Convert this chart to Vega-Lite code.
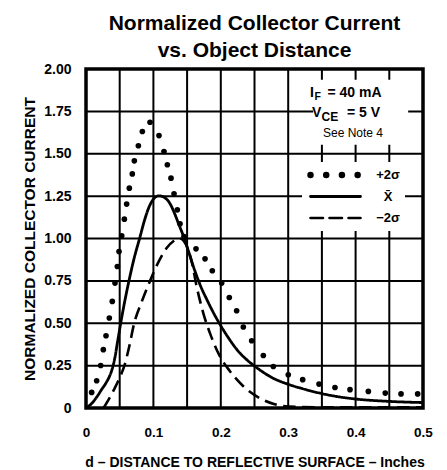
{
  "$schema": "https://vega.github.io/schema/vega-lite/v6.json",
  "width": 337,
  "height": 339,
  "autosize": {"type": "none"},
  "padding": {"left": 86, "top": 69, "right": 24, "bottom": 62},
  "background": "white",
  "config": {
    "view": {"stroke": "black", "strokeWidth": 3.5},
    "font": "Liberation Sans",
    "axis": {"grid": false}
  },
  "title": {
    "text": ["Normalized Collector Current", "vs. Object Distance"],
    "font": "Liberation Sans",
    "fontSize": 21,
    "fontWeight": "bold",
    "lineHeight": 27,
    "offset": 1,
    "color": "black",
    "anchor": "middle",
    "frame": "group"
  },
  "datasets": {
    "gridx": [
      {"gx": 0.05}, {"gx": 0.1}, {"gx": 0.15}, {"gx": 0.2}, {"gx": 0.25},
      {"gx": 0.3}, {"gx": 0.35}, {"gx": 0.4}, {"gx": 0.45}
    ],
    "gridy": [
      {"gy": 0.25}, {"gy": 0.5}, {"gy": 0.75}, {"gy": 1.0},
      {"gy": 1.25}, {"gy": 1.5}, {"gy": 1.75}
    ],
    "curves": [
      {"s": "X̄", "d": 0, "v": 0},
      {"s": "X̄", "d": 0.008, "v": 0.025},
      {"s": "X̄", "d": 0.016, "v": 0.065},
      {"s": "X̄", "d": 0.0225, "v": 0.105},
      {"s": "X̄", "d": 0.03, "v": 0.15},
      {"s": "X̄", "d": 0.035, "v": 0.188},
      {"s": "X̄", "d": 0.039, "v": 0.232},
      {"s": "X̄", "d": 0.043, "v": 0.3},
      {"s": "X̄", "d": 0.047, "v": 0.395},
      {"s": "X̄", "d": 0.0515, "v": 0.5},
      {"s": "X̄", "d": 0.0575, "v": 0.63},
      {"s": "X̄", "d": 0.064, "v": 0.755},
      {"s": "X̄", "d": 0.0715, "v": 0.885},
      {"s": "X̄", "d": 0.0795, "v": 1.0},
      {"s": "X̄", "d": 0.087, "v": 1.11},
      {"s": "X̄", "d": 0.094, "v": 1.19},
      {"s": "X̄", "d": 0.1, "v": 1.232},
      {"s": "X̄", "d": 0.108, "v": 1.252},
      {"s": "X̄", "d": 0.116, "v": 1.243},
      {"s": "X̄", "d": 0.124, "v": 1.21},
      {"s": "X̄", "d": 0.131, "v": 1.152},
      {"s": "X̄", "d": 0.138, "v": 1.08},
      {"s": "X̄", "d": 0.144, "v": 1.02},
      {"s": "X̄", "d": 0.15, "v": 0.95},
      {"s": "X̄", "d": 0.1606, "v": 0.82},
      {"s": "X̄", "d": 0.17, "v": 0.72},
      {"s": "X̄", "d": 0.18, "v": 0.634},
      {"s": "X̄", "d": 0.19, "v": 0.555},
      {"s": "X̄", "d": 0.2, "v": 0.485},
      {"s": "X̄", "d": 0.212, "v": 0.41},
      {"s": "X̄", "d": 0.2234, "v": 0.347},
      {"s": "X̄", "d": 0.237, "v": 0.29},
      {"s": "X̄", "d": 0.25, "v": 0.248},
      {"s": "X̄", "d": 0.2766, "v": 0.178},
      {"s": "X̄", "d": 0.3, "v": 0.14},
      {"s": "X̄", "d": 0.325, "v": 0.11},
      {"s": "X̄", "d": 0.35, "v": 0.085},
      {"s": "X̄", "d": 0.375, "v": 0.066},
      {"s": "X̄", "d": 0.4, "v": 0.053},
      {"s": "X̄", "d": 0.45, "v": 0.039},
      {"s": "X̄", "d": 0.5, "v": 0.032},
      {"s": "−2σ", "d": 0.026, "v": 0},
      {"s": "−2σ", "d": 0.035, "v": 0.06},
      {"s": "−2σ", "d": 0.043, "v": 0.12},
      {"s": "−2σ", "d": 0.05, "v": 0.18},
      {"s": "−2σ", "d": 0.057, "v": 0.25},
      {"s": "−2σ", "d": 0.064, "v": 0.36},
      {"s": "−2σ", "d": 0.0715, "v": 0.5},
      {"s": "−2σ", "d": 0.0825, "v": 0.625},
      {"s": "−2σ", "d": 0.095, "v": 0.75},
      {"s": "−2σ", "d": 0.108, "v": 0.865},
      {"s": "−2σ", "d": 0.12, "v": 0.945},
      {"s": "−2σ", "d": 0.13, "v": 0.985},
      {"s": "−2σ", "d": 0.139, "v": 1.0},
      {"s": "−2σ", "d": 0.145, "v": 0.985},
      {"s": "−2σ", "d": 0.151, "v": 0.94},
      {"s": "−2σ", "d": 0.157, "v": 0.86},
      {"s": "−2σ", "d": 0.164, "v": 0.72},
      {"s": "−2σ", "d": 0.174, "v": 0.56},
      {"s": "−2σ", "d": 0.185, "v": 0.43},
      {"s": "−2σ", "d": 0.198, "v": 0.31},
      {"s": "−2σ", "d": 0.213, "v": 0.22},
      {"s": "−2σ", "d": 0.233, "v": 0.13},
      {"s": "−2σ", "d": 0.257, "v": 0.06},
      {"s": "−2σ", "d": 0.28, "v": 0.022},
      {"s": "−2σ", "d": 0.3, "v": 0.008},
      {"s": "−2σ", "d": 0.35, "v": 0.004},
      {"s": "−2σ", "d": 0.4, "v": 0.004},
      {"s": "−2σ", "d": 0.5, "v": 0.004}
    ],
    "dots": [
      {"s": "+2σ", "d": 0.0084, "v": 0.092},
      {"s": "+2σ", "d": 0.0158, "v": 0.161},
      {"s": "+2σ", "d": 0.0218, "v": 0.251},
      {"s": "+2σ", "d": 0.0257, "v": 0.344},
      {"s": "+2σ", "d": 0.0297, "v": 0.426},
      {"s": "+2σ", "d": 0.0346, "v": 0.531},
      {"s": "+2σ", "d": 0.039, "v": 0.629},
      {"s": "+2σ", "d": 0.043, "v": 0.737},
      {"s": "+2σ", "d": 0.0465, "v": 0.835},
      {"s": "+2σ", "d": 0.049, "v": 0.923},
      {"s": "+2σ", "d": 0.053, "v": 1.016},
      {"s": "+2σ", "d": 0.0569, "v": 1.114},
      {"s": "+2σ", "d": 0.0603, "v": 1.203},
      {"s": "+2σ", "d": 0.0643, "v": 1.297},
      {"s": "+2σ", "d": 0.0687, "v": 1.381},
      {"s": "+2σ", "d": 0.0717, "v": 1.458},
      {"s": "+2σ", "d": 0.0777, "v": 1.547},
      {"s": "+2σ", "d": 0.0836, "v": 1.631},
      {"s": "+2σ", "d": 0.095, "v": 1.686},
      {"s": "+2σ", "d": 0.1083, "v": 1.607},
      {"s": "+2σ", "d": 0.1157, "v": 1.513},
      {"s": "+2σ", "d": 0.1207, "v": 1.435},
      {"s": "+2σ", "d": 0.1261, "v": 1.356},
      {"s": "+2σ", "d": 0.1306, "v": 1.264},
      {"s": "+2σ", "d": 0.1355, "v": 1.169},
      {"s": "+2σ", "d": 0.1395, "v": 1.087},
      {"s": "+2σ", "d": 0.1454, "v": 1.012},
      {"s": "+2σ", "d": 0.1632, "v": 0.939},
      {"s": "+2σ", "d": 0.1766, "v": 0.88},
      {"s": "+2σ", "d": 0.1874, "v": 0.81},
      {"s": "+2σ", "d": 0.2013, "v": 0.737},
      {"s": "+2σ", "d": 0.2126, "v": 0.652},
      {"s": "+2σ", "d": 0.2235, "v": 0.574},
      {"s": "+2σ", "d": 0.2334, "v": 0.478},
      {"s": "+2σ", "d": 0.2458, "v": 0.397},
      {"s": "+2σ", "d": 0.2631, "v": 0.31},
      {"s": "+2σ", "d": 0.2779, "v": 0.245},
      {"s": "+2σ", "d": 0.3001, "v": 0.196},
      {"s": "+2σ", "d": 0.3215, "v": 0.167},
      {"s": "+2σ", "d": 0.3457, "v": 0.141},
      {"s": "+2σ", "d": 0.3694, "v": 0.121},
      {"s": "+2σ", "d": 0.3917, "v": 0.108},
      {"s": "+2σ", "d": 0.4189, "v": 0.098},
      {"s": "+2σ", "d": 0.444, "v": 0.088},
      {"s": "+2σ", "d": 0.4674, "v": 0.083},
      {"s": "+2σ", "d": 0.4921, "v": 0.083}
    ]
  },
  "layer": [
    {
      "data": {"name": "gridx"},
      "mark": {"type": "rule", "color": "black", "strokeWidth": 2},
      "encoding": {
        "x": {
          "field": "gx", "type": "quantitative",
          "scale": {"domain": [0, 0.5], "nice": false, "zero": false},
          "axis": {
            "values": [0, 0.1, 0.2, 0.3, 0.4, 0.5],
            "format": ".1~f",
            "grid": false,
            "domain": false, "ticks": false, "labelFlush": false,
            "labelFont": "Liberation Sans", "labelFontWeight": "bold", "labelFontSize": 13.5,
            "labelColor": "black", "labelPadding": 17,
            "title": "d – DISTANCE TO REFLECTIVE SURFACE – Inches",
            "titleFont": "Liberation Sans", "titleFontWeight": "bold", "titleFontSize": 14,
            "titleColor": "black", "titlePadding": 17
          }
        }
      }
    },
    {
      "data": {"name": "gridy"},
      "mark": {"type": "rule", "color": "black", "strokeWidth": 2},
      "encoding": {
        "y": {
          "field": "gy", "type": "quantitative",
          "scale": {"domain": [0, 2], "nice": false},
          "axis": {
            "values": [0, 0.25, 0.5, 0.75, 1, 1.25, 1.5, 1.75, 2],
            "labelExpr": "datum.value == 0 ? '0' : format(datum.value, '.2f')",
            "grid": false,
            "domain": false, "ticks": false, "labelFlush": false,
            "labelFont": "Liberation Sans", "labelFontWeight": "bold", "labelFontSize": 14,
            "labelColor": "black", "labelPadding": 15,
            "title": "NORMALIZED COLLECTOR CURRENT",
            "titleFont": "Liberation Sans", "titleFontWeight": "bold", "titleFontSize": 15.5,
            "titleColor": "black", "titlePadding": 6
          }
        }
      }
    },
    {
      "data": {"values": [{}]},
      "mark": {"type": "rect", "color": "white", "opacity": 1},
      "encoding": {
        "x": {"datum": 0.337}, "x2": {"datum": 0.478},
        "y": {"datum": 1.553}, "y2": {"datum": 1.936}
      }
    },
    {
      "data": {"name": "curves"},
      "mark": {"type": "line", "color": "black", "strokeCap": "butt", "interpolate": "monotone"},
      "encoding": {
        "x": {"field": "d", "type": "quantitative"},
        "y": {"field": "v", "type": "quantitative"},
        "strokeDash": {
          "field": "s", "type": "nominal",
          "scale": {"domain": ["+2σ", "X̄", "−2σ"], "range": [[0.01, 15.7], [1, 0], [12.5, 6.5]]},
          "legend": {
            "title": null, "orient": "none", "legendX": 216, "legendY": 93,
            "fillColor": "white", "padding": 5, "symbolType": "stroke", "symbolSize": 2500,
            "symbolStrokeColor": "black", "labelFont": "Liberation Sans", "labelFontSize": 13,
            "labelFontWeight": "bold", "labelColor": "black", "labelOffset": 24, "labelAlign": "center",
            "clipHeight": 16, "rowPadding": 5.5,
            "encoding": {"symbols": {"strokeCap": {"value": "round"}}}
          }
        },
        "strokeWidth": {
          "field": "s", "type": "nominal",
          "scale": {"type": "ordinal", "domain": ["+2σ", "X̄", "−2σ"], "range": [6.5, 2.8, 2.6]},
          "legend": {
            "title": null, "orient": "none", "legendX": 216, "legendY": 93,
            "fillColor": "white", "padding": 5, "symbolType": "stroke", "symbolSize": 2500,
            "symbolStrokeColor": "black", "labelFont": "Liberation Sans", "labelFontSize": 13,
            "labelFontWeight": "bold", "labelColor": "black", "labelOffset": 24, "labelAlign": "center",
            "clipHeight": 16, "rowPadding": 5.5,
            "encoding": {"symbols": {"strokeCap": {"value": "round"}}}
          }
        }
      }
    },
    {
      "data": {"name": "dots"},
      "mark": {"type": "circle", "color": "black", "size": 32, "opacity": 1},
      "encoding": {
        "x": {"field": "d", "type": "quantitative"},
        "y": {"field": "v", "type": "quantitative"}
      }
    },
    {
      "data": {"values": [{}]},
      "mark": {"type": "text", "text": "I", "align": "left", "baseline": "middle", "font": "Liberation Sans", "fontWeight": "bold", "fontSize": 14, "color": "black", "dy": 1.5},
      "encoding": {"x": {"datum": 0.3323}, "y": {"datum": 1.865}}
    },
    {
      "data": {"values": [{}]},
      "mark": {"type": "text", "text": "F", "align": "left", "baseline": "middle", "font": "Liberation Sans", "fontWeight": "bold", "fontSize": 10.5, "color": "black", "dx": 4.5, "dy": 5},
      "encoding": {"x": {"datum": 0.3323}, "y": {"datum": 1.865}}
    },
    {
      "data": {"values": [{}]},
      "mark": {"type": "text", "text": "= 40 mA", "align": "left", "baseline": "middle", "font": "Liberation Sans", "fontWeight": "bold", "fontSize": 14, "color": "black", "dx": 17.5, "dy": 1.5},
      "encoding": {"x": {"datum": 0.3323}, "y": {"datum": 1.865}}
    },
    {
      "data": {"values": [{}]},
      "mark": {"type": "text", "text": "V", "align": "left", "baseline": "middle", "font": "Liberation Sans", "fontWeight": "bold", "fontSize": 14, "color": "black"},
      "encoding": {"x": {"datum": 0.3353}, "y": {"datum": 1.74}}
    },
    {
      "data": {"values": [{}]},
      "mark": {"type": "text", "text": "CE", "align": "left", "baseline": "middle", "font": "Liberation Sans", "fontWeight": "bold", "fontSize": 12, "color": "black", "dx": 9.5, "dy": 3.5},
      "encoding": {"x": {"datum": 0.3353}, "y": {"datum": 1.74}}
    },
    {
      "data": {"values": [{}]},
      "mark": {"type": "text", "text": "= 5 V", "align": "left", "baseline": "middle", "font": "Liberation Sans", "fontWeight": "bold", "fontSize": 14, "color": "black", "dx": 35},
      "encoding": {"x": {"datum": 0.3353}, "y": {"datum": 1.74}}
    },
    {
      "data": {"values": [{}]},
      "mark": {"type": "text", "text": "See Note 4", "align": "left", "baseline": "middle", "font": "Liberation Sans", "fontSize": 12, "color": "black"},
      "encoding": {"x": {"datum": 0.3516}, "y": {"datum": 1.623}}
    }
  ]
}
